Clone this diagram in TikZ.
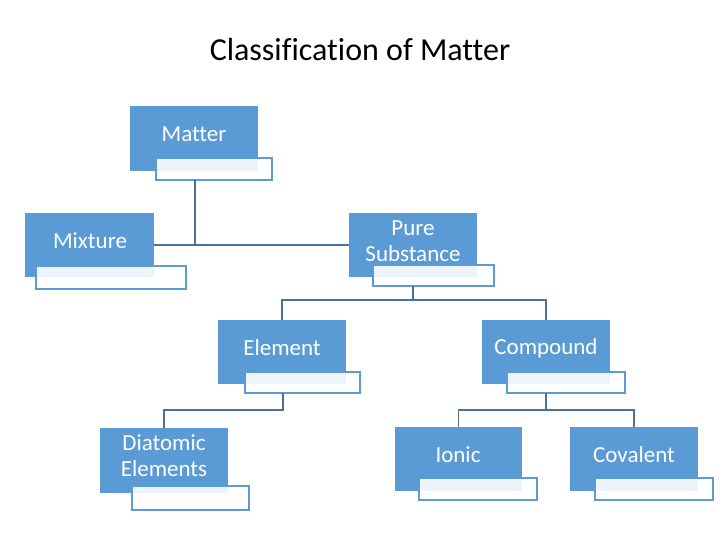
\documentclass[tikz,border=0pt]{standalone}
\usepackage{fontspec}
\setmainfont[Ligatures=CommonOff]{Carlito}
\definecolor{bx}{HTML}{5B9BD5}
\definecolor{ln}{HTML}{4A7196}
\begin{document}
\begin{tikzpicture}[x=1pt,y=-1pt,
  bluebox/.style={fill=bx,draw=none},
  subbox/.style={draw=bx,line width=1.2pt,fill=white,fill opacity=0.9,draw opacity=1},
  conn/.style={draw=ln,line width=1.5pt},
  lbl/.style={text=white,font=\fontsize{23}{26}\selectfont,align=center}]
\useasboundingbox[fill=white] (0,0) rectangle (720,540);
\node[font=\fontsize{32}{36}\selectfont] (title) at (360,50) {Classification of Matter};
\newcommand\mybox[9]{%
  \fill[bluebox] (#2,#4) rectangle (#3,#5);
  \draw[subbox] (#6,#8) rectangle (#7,#9);
  \coordinate (#1-t) at ({(#2+#3)/2},#4);
  \coordinate (#1-l) at (#2,{(#4+#5)/2});
  \coordinate (#1-r) at (#3,{(#4+#5)/2});}
\mybox{matter}{130}{258}{106}{171}{156}{272}{158}{180}
\mybox{mix}{25}{154}{213}{277}{36}{186}{266}{289}
\mybox{pure}{349}{477}{213}{277}{373}{494}{265}{286}
\mybox{elem}{218}{346}{320}{384}{245}{360}{372}{393}
\mybox{comp}{482}{610}{320}{384}{507}{625}{372}{393}
\mybox{dia}{100}{228}{428}{493}{132}{249}{486}{510}
\mybox{ion}{395}{522}{427}{491}{419}{537}{478}{500}
\mybox{cov}{570}{698}{427}{491}{595}{713}{478}{500}
\coordinate (matter-b) at (195,180);
\coordinate (pure-b) at (413,286);
\coordinate (elem-b) at (283,393);
\coordinate (comp-b) at (546,393);
\node[lbl] (tm) at (194,134) {Matter};
\node[lbl] (tmx) at (90,241) {Mixture};
\node[lbl] (tp) at (413,241) {Pure\\Substance};
\node[lbl] (te) at (282,348) {Element};
\node[lbl] (tc) at (546,348) {Compound};
\node[lbl] (td) at (164,456) {Diatomic\\Elements};
\node[lbl] (ti) at (458,455) {Ionic};
\node[lbl] (tv) at (634,455) {Covalent};
\draw[conn] (mix-r) -- (pure-l);
\draw[conn] (matter-b) -- ++(0,65);
\draw[conn] (pure-b) -- ++(0,14) -| (elem-t);
\draw[conn] (pure-b) ++(0,14) -| (comp-t);
\draw[conn] (elem-b) -- ++(0,17) -| (dia-t);
\draw[conn] (comp-b) -- ++(0,17) -| (ion-t);
\draw[conn] (comp-b) ++(0,17) -| (cov-t);
\end{tikzpicture}
\end{document}
